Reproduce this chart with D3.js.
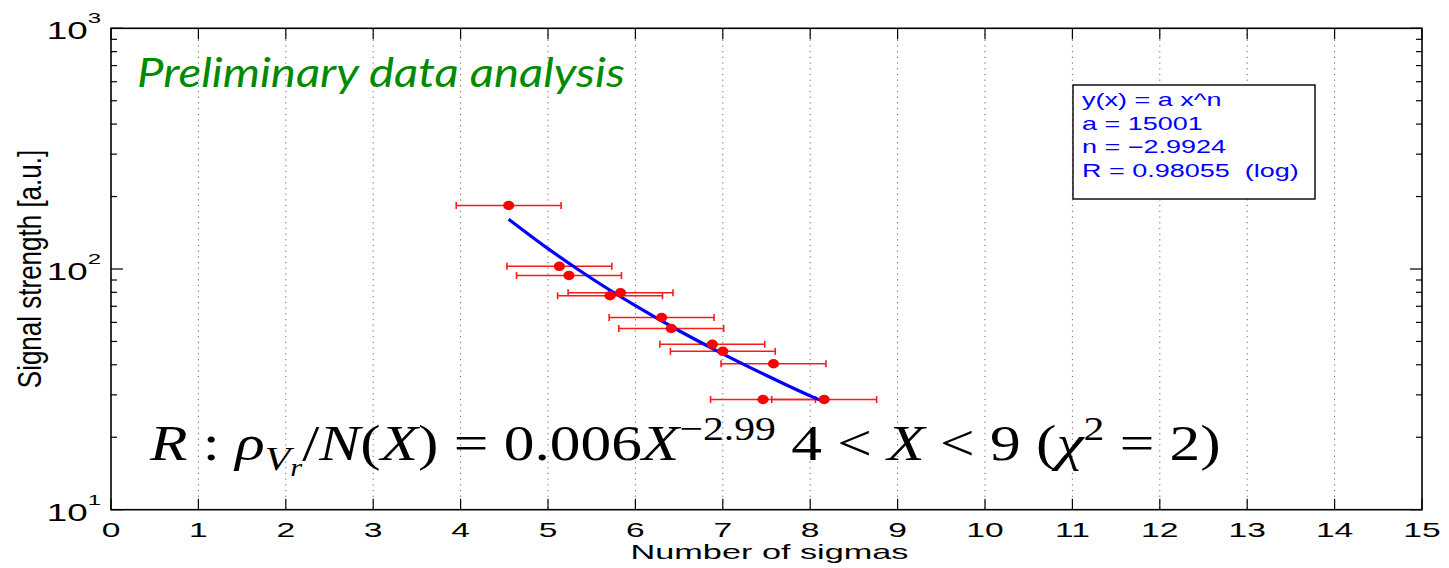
<!DOCTYPE html>
<html>
<head>
<meta charset="utf-8">
<script src="https://cdn.jsdelivr.net/npm/d3@7"></script>
<style>
  html, body { margin: 0; padding: 0; background: #fff; }
  svg { display: block; }
  text { white-space: pre; }
</style>
</head>
<body>
<svg id="chart" width="1449" height="568"></svg>
<script>
// Data
const sigmas   = [4.55, 5.13, 5.24, 5.71, 5.83, 6.30, 6.41, 6.88, 7.00, 7.58, 7.46, 8.16];
const signals  = [183.6, 102.6, 94.0, 77.4, 79.7, 62.9, 56.6, 48.7, 45.5, 40.4, 28.7, 28.7];
const sigmaErr = [0.6, 0.6, 0.6, 0.6, 0.6, 0.6, 0.6, 0.6, 0.6, 0.6, 0.6, 0.6];

// Fitted curve (blue)
const fitX = [4.55, 5.0, 5.5, 6.0, 6.5, 7.0, 7.5, 8.0, 8.16];
const fitY = [161, 121.5, 91.3, 70.4, 55.4, 44.4, 36.1, 29.7, 28.05];

// Axes
const xTickValues = [0, 1, 2, 3, 4, 5, 6, 7, 8, 9, 10, 11, 12, 13, 14, 15];
const yDecades = [10, 100, 1000];
const yExponents = ["1", "2", "3"];
const yMinor = [20, 30, 40, 50, 60, 70, 80, 90, 200, 300, 400, 500, 600, 700, 800, 900];

// Texts
const legendLines = ["y(x) = a x^n", "a = 15001", "n = \u22122.9924", "R = 0.98055  (log)"];
const xLabel = "Number of sigmas";
const yLabel = "Signal strength [a.u.]";
const noteText = "Preliminary data analysis";

// Layout
const plot = {left: 111, right: 1422, top: 28.3, bottom: 509.7};
const sx = 1.6;   // the original picture is stretched sideways
const axisFont = "'Liberation Sans', Arial, Helvetica, sans-serif";

const svg = d3.select("#chart");

const x = d3.scaleLinear().domain([0, 15]).range([plot.left, plot.right]);
const y = d3.scaleLog().domain([10, 1000]).range([plot.bottom, plot.top]);

////////// Grid //////////
svg.append("g")
    .selectAll("line")
    .data(xTickValues.filter(d => d > 0 && d < 15))
    .enter().append("line")
    .attr("x1", d => x(d)).attr("x2", d => x(d))
    .attr("y1", plot.top).attr("y2", plot.bottom)
    .attr("stroke", "#666")
    .attr("stroke-width", 1)
    .attr("stroke-dasharray", "1.2,4.5");

////////// Ticks //////////
const ticks = svg.append("g").attr("stroke", "#000").attr("stroke-width", 1.2);
xTickValues.forEach(d => {
    ticks.append("line").attr("x1", x(d)).attr("x2", x(d)).attr("y1", plot.bottom).attr("y2", plot.bottom - 11);
    ticks.append("line").attr("x1", x(d)).attr("x2", x(d)).attr("y1", plot.top).attr("y2", plot.top + 11);
});
yDecades.forEach(d => {
    ticks.append("line").attr("x1", plot.left).attr("x2", plot.left + 12).attr("y1", y(d)).attr("y2", y(d));
    ticks.append("line").attr("x1", plot.right).attr("x2", plot.right - 12).attr("y1", y(d)).attr("y2", y(d));
});
yMinor.forEach(d => {
    ticks.append("line").attr("x1", plot.left).attr("x2", plot.left + 6).attr("y1", y(d)).attr("y2", y(d));
    ticks.append("line").attr("x1", plot.right).attr("x2", plot.right - 6).attr("y1", y(d)).attr("y2", y(d));
});

// Frame
svg.append("rect")
    .attr("x", plot.left).attr("y", plot.top)
    .attr("width", plot.right - plot.left).attr("height", plot.bottom - plot.top)
    .attr("fill", "none").attr("stroke", "#000").attr("stroke-width", 1.6);

////////// Tick labels //////////
xTickValues.forEach(d => {
    svg.append("text")
        .attr("transform", `translate(${x(d)},${plot.bottom + 27}) scale(${sx},1)`)
        .attr("text-anchor", "middle")
        .style("font-family", axisFont)
        .style("font-size", "21px")
        .text(d);
});

yDecades.forEach((d, i) => {
    const t = svg.append("text")
        .attr("transform", `translate(101,${y(d) + 11}) scale(${sx},1)`)
        .attr("text-anchor", "end")
        .style("font-family", axisFont)
        .style("font-size", "23px");
    t.append("tspan").text("10");
    t.append("tspan").attr("dy", -16).style("font-size", "15px").text(yExponents[i]);
});

// Axis titles
svg.append("text")
    .attr("transform", `translate(${(plot.left + plot.right) / 2 + 3},559) scale(${sx * 1.02},1)`)
    .attr("text-anchor", "middle")
    .style("font-family", axisFont)
    .style("font-size", "21px")
    .text(xLabel);

svg.append("text")
    .attr("transform", `translate(41,${(plot.top + plot.bottom) / 2}) scale(1.3,1) rotate(-90)`)
    .attr("text-anchor", "middle")
    .style("font-family", axisFont)
    .style("font-size", "26px")
    .text(yLabel);

////////// Error bars //////////
const data = sigmas.map((s, i) => ({x: s, y: signals[i], e: sigmaErr[i]}));
const bars = svg.append("g").attr("stroke", "#ff1a1a").attr("stroke-width", 1.6);
data.forEach(d => {
    bars.append("line").attr("x1", x(d.x - d.e)).attr("x2", x(d.x + d.e)).attr("y1", y(d.y)).attr("y2", y(d.y));
    bars.append("line").attr("x1", x(d.x - d.e)).attr("x2", x(d.x - d.e)).attr("y1", y(d.y) - 3.5).attr("y2", y(d.y) + 3.5);
    bars.append("line").attr("x1", x(d.x + d.e)).attr("x2", x(d.x + d.e)).attr("y1", y(d.y) - 3.5).attr("y2", y(d.y) + 3.5);
});

////////// Fit line //////////
const fitLine = d3.line()
    .x(d => x(d[0]))
    .y(d => y(d[1]))
    .curve(d3.curveMonotoneX);
svg.append("path")
    .datum(fitX.map((v, i) => [v, fitY[i]]))
    .attr("d", fitLine)
    .attr("fill", "none")
    .attr("stroke", "#0000ff")
    .attr("stroke-width", 3.2);

////////// Points //////////
svg.append("g")
    .selectAll("ellipse")
    .data(data)
    .enter().append("ellipse")
    .attr("cx", d => x(d.x))
    .attr("cy", d => y(d.y))
    .attr("rx", 5.6)
    .attr("ry", 4.7)
    .attr("fill", "#ff0000");

////////// Legend box //////////
svg.append("rect")
    .attr("x", 1073).attr("y", 85)
    .attr("width", 242).attr("height", 114)
    .attr("fill", "#fff").attr("stroke", "#000").attr("stroke-width", 1.4);
legendLines.forEach((s, i) => {
    svg.append("text")
        .attr("transform", `translate(1082,${106 + i * 23.6}) scale(1.5,1)`)
        .style("font-family", axisFont)
        .style("font-size", "18px")
        .attr("fill", "#0000ff")
        .text(s);
});

////////// Green note //////////
const note = svg.append("text")
    .style("font-family", "Lato, 'Open Sans', sans-serif")
    .style("font-style", "italic")
    .style("font-size", "41px")
    .attr("fill", "#008a00")
    .text(noteText);
const nw = note.node().getBBox().width;
note.attr("transform", `translate(137,87) scale(${488 / nw},1)`);

////////// Formula //////////
const formula = svg.append("text")
    .style("font-family", "'Liberation Serif', 'DejaVu Serif', serif")
    .style("font-size", "50px")
    .attr("fill", "#000");
const parts = [
    {t: "R", it: true},
    {t: " : "},
    {t: "\u03C1", it: true},
    {t: "V", it: true, size: 34, dy: 10},
    {t: "r", it: true, size: 25, dy: 6},
    {t: "/", dy: -16},
    {t: "N", it: true},
    {t: "("},
    {t: "X", it: true},
    {t: ") = 0.006"},
    {t: "X", it: true},
    {t: "\u22122.99", size: 34, dy: -20},
    {t: " 4 < ", dy: 20},
    {t: "X", it: true},
    {t: " < 9 ("},
    {t: "\u03C7", it: true},
    {t: "2", size: 34, dy: -20},
    {t: " = 2)", dy: 20}
];
parts.forEach(p => {
    formula.append("tspan")
        .attr("dy", p.dy || 0)
        .style("font-style", p.it ? "italic" : "normal")
        .style("font-size", (p.size || 50) + "px")
        .text(p.t);
});
const fw = formula.node().getBBox().width;
formula.attr("transform", `translate(150,460) scale(${1072 / fw},1)`);
</script>
</body>
</html>
